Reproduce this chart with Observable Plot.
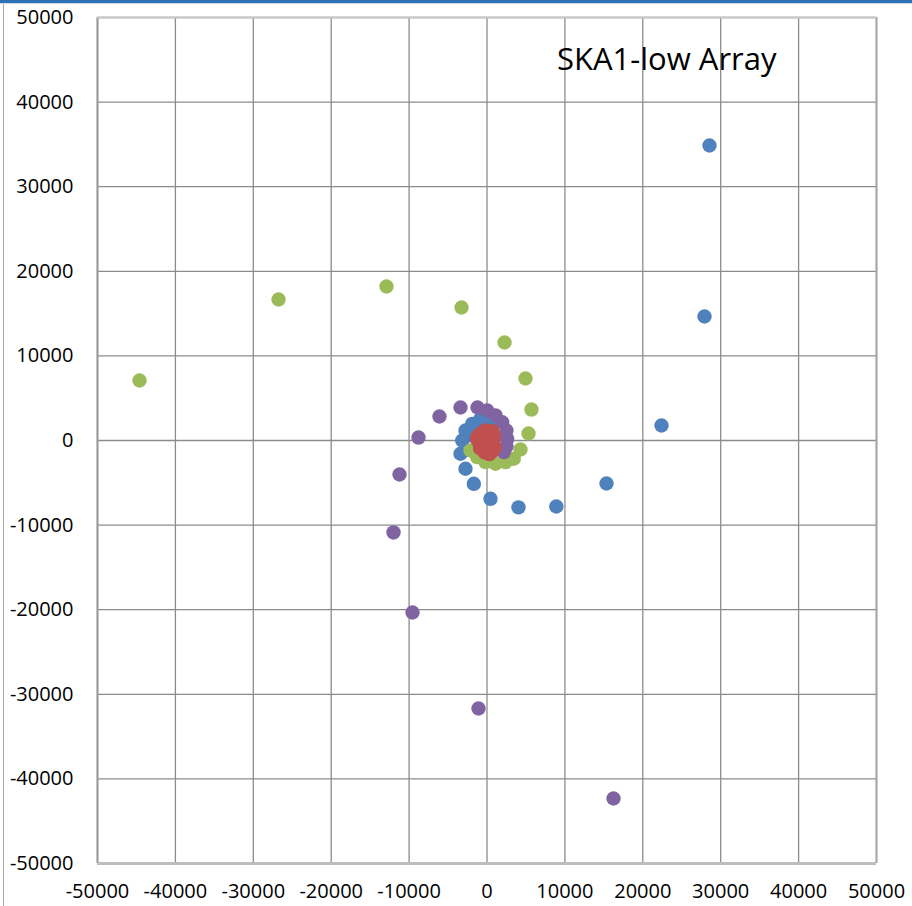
<!DOCTYPE html>
<html>
<head>
<meta charset="utf-8">
<script src="https://cdn.jsdelivr.net/npm/d3@7"></script>
<script src="https://cdn.jsdelivr.net/npm/@observablehq/plot@0.6"></script>
<style>
  html, body { margin: 0; padding: 0; background: #fff; }
  #wrap { position: relative; width: 912px; height: 906px; overflow: hidden; }
  #frame { position: absolute; left: 0; top: 0; width: 912px; height: 906px; pointer-events: none;
           box-sizing: border-box; border-top: 3px solid #2a72b5; }
  #frame::before { content: ""; position: absolute; left: 3px; top: 0; width: 1px; height: 906px; background: #a8a8a8; }
  #frame::after { content: ""; position: absolute; left: 0; top: 0; width: 912px; height: 1px; background: #d8d8d8; }
  #title { position: absolute; left: 557px; top: 38px; font-family: "Open Sans", sans-serif; font-size: 31px; line-height: 40px; color: #000; }
</style>
</head>
<body>
<div id="wrap"><div id="chart"></div><div id="title">SKA1-low Array</div><div id="frame"></div></div>
<script>
// Series 1 (blue)
const blueX = [-190, -830, -1900, -2760, -3180, -3400, -2760, -1690, 450, 4040, 8900, 15340, 22400, 27920, 28560, 600, -400, -2300];
const blueY = [2750, 2560, 1970, 1180, 0, -1570, -3340, -5120, -6890, -7900, -7800, -5080, 1770, 14660, 34870, 2400, 1700, 600];
// Series 2 (red) - core
const redX = [0, 600, -600, 400, -500, -200, -1200, 800, 100, -1000, 700, -900, 700, 300, -300, 400, -1300, 0, -500, 300, 900, -300, 1000];
const redY = [0, 600, 400, -600, -500, 1200, 0, -100, -1200, 700, 1100, -900, -1300, 500, -200, 0, 300, -700, 1000, -1600, 500, -1400, -800];
// Series 3 (green)
const greenX = [-2120, -1260, -190, 1090, 2370, 3440, 4300, 5330, 5710, 4940, 2250, -3270, -12900, -26760, -44610];
const greenY = [-1180, -1970, -2560, -2750, -2560, -2160, -1060, 830, 3660, 7330, 11580, 15720, 18200, 16670, 7090];
// Series 4 (purple)
const purpleX = [2160, 2500, 2590, 2500, 1950, 1090, 30, -1220, -3400, -6100, -8790, -11230, -12000, -9560, -1090, 16240];
const purpleY = [-1380, -710, 200, 1180, 2160, 2960, 3550, 3900, 3900, 2840, 350, -4020, -10870, -20330, -31680, -42320];
const ticks = [-50000, -40000, -30000, -20000, -10000, 0, 10000, 20000, 30000, 40000, 50000];

const mk = (xs, ys) => xs.map((x, i) => ({x, y: ys[i]}));
const series = [
  {data: mk(blueX, blueY), color: "#4f81bd"},
  {data: mk(greenX, greenY), color: "#9bbb59"},
  {data: mk(purpleX, purpleY), color: "#8064a2"},
  {data: mk(redX, redY), color: "#c0504d"}
];

const chart = Plot.plot({
  width: 912,
  height: 906,
  marginLeft: 97,
  marginRight: 36,
  marginTop: 17,
  marginBottom: 43,
  style: {fontFamily: "'Open Sans', sans-serif", fontSize: "20px", color: "#000", background: "transparent"},
  x: {domain: [-50000, 50000], ticks: ticks, tickFormat: d => String(d), label: null},
  y: {domain: [-50000, 50000], ticks: ticks, tickFormat: d => String(d), label: null},
  marks: [
    Plot.gridX(ticks, {stroke: "#8c8c8c", strokeOpacity: 1, strokeWidth: 1.3}),
    Plot.gridY(ticks, {stroke: "#8c8c8c", strokeOpacity: 1, strokeWidth: 1.3}),
    Plot.ruleX([-50000], {stroke: "#9a9a9a", strokeWidth: 2}),
    Plot.ruleY([-50000], {stroke: "#bdbdbd", strokeWidth: 3}),
    Plot.ruleX([50000], {stroke: "#a8a8a8", strokeWidth: 2}),
    Plot.ruleY([50000], {stroke: "#c8c8c8", strokeWidth: 2}),
    Plot.axisX(ticks, {tickSize: 0, tickPadding: 20, fontSize: 20, tickFormat: d => String(d)}),
    Plot.axisY(ticks, {tickSize: 0, tickPadding: 24, fontSize: 20, tickFormat: d => String(d)}),
    ...series.map(s => Plot.dot(s.data, {x: "x", y: "y", r: 7.2, fill: s.color, stroke: "none"}))
  ]
});
document.getElementById("chart").appendChild(chart);
</script>
</body>
</html>
